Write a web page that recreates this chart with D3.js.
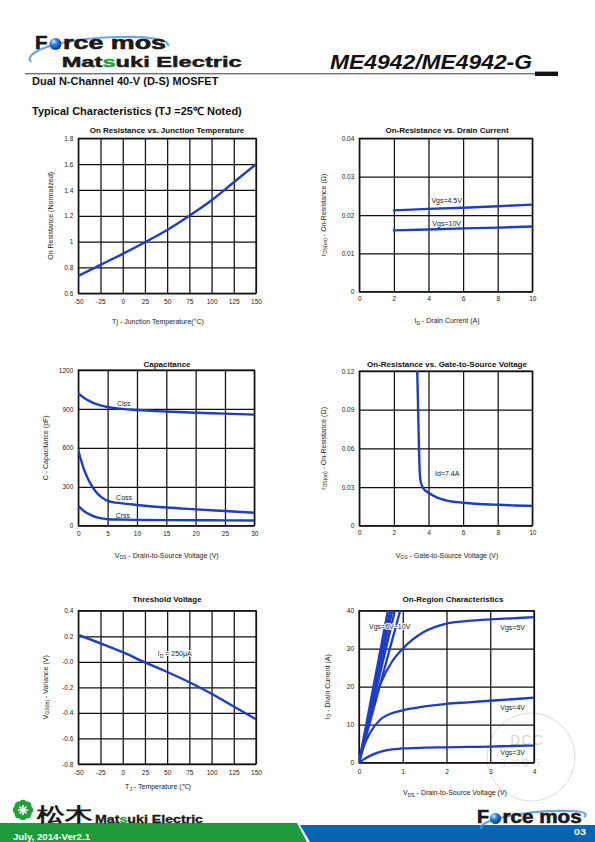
<!DOCTYPE html>
<html><head><meta charset="utf-8">
<script src="https://cdn.jsdelivr.net/npm/d3@7/dist/d3.min.js"></script>
<style>
body{margin:0;background:#fff}
svg{display:block}
text{font-family:"Liberation Sans",Arial,Helvetica,sans-serif}
</style>
</head><body>
<svg id="page" width="595" height="842"></svg>
<script>
// ---------------- DATA ----------------
// 1. On resistance vs junction temperature
const tempC = [-50, -25, 0, 25, 50, 75, 100, 125, 150];
const rdsNormalized = [0.735, 0.82, 0.905, 0.995, 1.09, 1.2, 1.32, 1.46, 1.6];
const tempTicks = [-50, -25, 0, 25, 50, 75, 100, 125, 150];
const tempTickLabels = ["-50", "-25", "0", "25", "50", "75", "100", "125", "150"];
const rdsNormTicks = [0.6, 0.8, 1, 1.2, 1.4, 1.6, 1.8];
const rdsNormTickLabels = ["0.6", "0.8", "1", "1.2", "1.4", "1.6", "1.8"];

// 2. On resistance vs drain current
const drainCurrent = [2, 4, 6, 8, 10];
const rdsVgs45 = [0.0212, 0.0216, 0.0219, 0.0223, 0.0227];
const rdsVgs10 = [0.0160, 0.0162, 0.0165, 0.0167, 0.0170];
const idTicks = [0, 2, 4, 6, 8, 10];
const idTickLabels = ["0", "2", "4", "6", "8", "10"];
const rdsIdTicks = [0, 0.01, 0.02, 0.03, 0.04];
const rdsIdTickLabels = ["0", "0.01", "0.02", "0.03", "0.04"];

// 3. Capacitance
const vdsCap = [0, 1, 2, 3, 4, 5, 7.5, 10, 15, 20, 25, 30];
const ciss = [1020, 985, 958, 938, 925, 915, 900, 892, 880, 870, 864, 856];
const coss = [580, 430, 330, 262, 218, 192, 172, 160, 140, 126, 113, 100];
const crss = [150, 112, 85, 66, 56, 50, 47, 45, 43, 42, 41, 40];
const vdsCapTicks = [0, 5, 10, 15, 20, 25, 30];
const vdsCapTickLabels = ["0", "5", "10", "15", "20", "25", "30"];
const capTicks = [0, 300, 600, 900, 1200];
const capTickLabels = ["0", "300", "600", "900", "1200"];

// 4. On resistance vs gate-to-source voltage
const vgsSweep = [3.35, 3.4, 3.45, 3.5, 3.55, 3.7, 4, 4.5, 5, 6, 7, 8, 9, 10];
const rdsVsVgs = [0.12, 0.09, 0.06, 0.04, 0.034, 0.029, 0.0255, 0.0218, 0.0197, 0.0178, 0.0168, 0.0162, 0.0157, 0.0153];
const vgsTicks = [0, 2, 4, 6, 8, 10];
const vgsTickLabels = ["0", "2", "4", "6", "8", "10"];
const rdsVgsTicks = [0, 0.03, 0.06, 0.09, 0.12];
const rdsVgsTickLabels = ["0", "0.03", "0.06", "0.09", "0.12"];

// 5. Threshold voltage
const vthVariance = [0.21, 0.145, 0.075, -0.005, -0.08, -0.16, -0.25, -0.35, -0.45];
const vthTicks = [-0.8, -0.6, -0.4, -0.2, 0, 0.2, 0.4];
const vthTickLabels = ["-0.8", "-0.6", "-0.4", "-0.2", "-0.0", "0.2", "0.4"];

// 6. On-region characteristics
const vdsOn = [0, 0.1, 0.25, 0.5, 0.75, 1, 1.5, 2, 2.5, 3, 3.5, 4];
const idVgs3 = [0, 0.8, 1.8, 2.9, 3.5, 3.75, 3.95, 4.05, 4.15, 4.25, 4.4, 4.5];
const idVgs4 = [0, 4, 7.8, 11.5, 13, 13.8, 14.8, 15.5, 15.9, 16.3, 16.7, 17.1];
const idVgs5 = [0, 5, 12, 21, 26.5, 30, 34.5, 36.6, 37.3, 37.7, 38, 38.3];
const steepVgsNames = ["10V", "9V", "8V", "7V", "6V"];
const steepVdsAt40A = [0.66, 0.71, 0.76, 0.82, 0.94];
const steepIdEnd = 40;
const onXTicks = [0, 1, 2, 3, 4];
const onXTickLabels = ["0", "1", "2", "3", "4"];
const onYTicks = [0, 10, 20, 30, 40];
const onYTickLabels = ["0", "10", "20", "30", "40"];

// ---------------- DRAWING ----------------
const svg = d3.select("#page");
const BLUE = "#1f3dc4";
const GRID = "#111";
const defs = svg.append("defs");

function rich(textSel, parts, base) {
  let prevSub = false;
  parts.forEach(([s, sub]) => {
    const t = textSel.append("tspan").text(s);
    if (sub && !prevSub) { t.attr("dy", 1.6).attr("font-size", base * 0.72); }
    else if (sub) { t.attr("font-size", base * 0.72); }
    else if (!sub && prevSub) { t.attr("dy", -1.6); }
    prevSub = sub;
  });
}

let clipId = 0;
function chart(c) {
  const w = c.r - c.l, h = c.b - c.t;
  const x = d3.scaleLinear().domain(c.xDomain).range([0, w]);
  const y = d3.scaleLinear().domain(c.yDomain).range([h, 0]);
  const g = svg.append("g").attr("transform", `translate(${c.l},${c.t})`);

  const cid = "clip" + (clipId++);
  defs.append("clipPath").attr("id", cid).append("rect").attr("width", w).attr("height", h);

  const xa = g.append("g").attr("transform", `translate(0,${h})`)
    .call(d3.axisBottom(x).tickValues(c.xTicks).tickFormat((d, i) => c.xTickLabels[i])
      .tickSizeInner(-h).tickSizeOuter(0).tickPadding(c.xPad));
  const ya = g.append("g")
    .call(d3.axisLeft(y).tickValues(c.yTicks).tickFormat((d, i) => c.yTickLabels[i])
      .tickSizeInner(-w).tickSizeOuter(0).tickPadding(5));
  [xa, ya].forEach(a => {
    a.select(".domain").remove();
    a.selectAll("line").attr("stroke", GRID).attr("stroke-width", 1.25);
    a.selectAll("text").attr("font-size", 6.5).attr("fill", "#222")
      .attr("font-family", "'Liberation Sans',Arial,sans-serif");
  });
  g.append("rect").attr("width", w).attr("height", h)
    .attr("fill", "none").attr("stroke", GRID).attr("stroke-width", 1.25);

  const line = d3.line().x(d => x(d[0])).y(d => y(d[1])).curve(c.curve || d3.curveMonotoneX);
  const pg = g.append("g").attr("clip-path", `url(#${cid})`);
  c.series.forEach(s => {
    pg.append("path").datum(s).attr("d", line).attr("fill", "none")
      .attr("stroke", BLUE).attr("stroke-width", c.sw || 2.4).attr("stroke-linecap", "round");
  });

  (c.notes || []).forEach(n => {
    const t = g.append("text").attr("x", x(n.x)).attr("y", y(n.y))
      .attr("font-size", 7).attr("fill", "#222").attr("text-anchor", n.anchor || "start");
    if (n.halo) t.attr("stroke", "#fff").attr("stroke-width", 2.2).attr("paint-order", "stroke").attr("stroke-linejoin", "round");
    rich(t, n.parts, 7);
  });

  svg.append("text").attr("x", c.titleX).attr("y", c.titleY).attr("text-anchor", "middle")
    .attr("font-size", 8).attr("font-weight", "bold").attr("fill", "#111").text(c.title);
  const xl = svg.append("text").attr("x", c.xLabelX).attr("y", c.xLabelY).attr("text-anchor", "middle")
    .attr("font-size", 7).attr("fill", "#222");
  rich(xl, c.xLabel, 7);
  const cy = (c.t + c.b) / 2;
  const yl = svg.append("text").attr("transform", `translate(${c.yLabelX},${cy}) rotate(-90)`)
    .attr("text-anchor", "middle").attr("font-size", 7).attr("fill", "#222");
  rich(yl, c.yLabel, 7);
}

const zip = (a, b) => a.map((v, i) => [v, b[i]]);

// ---------------- WATERMARK (faint, beneath the charts) ----------------
svg.append("circle").attr("cx", 531).attr("cy", 757).attr("r", 44).attr("fill", "none")
  .attr("stroke", "#dcdcdc").attr("stroke-width", 1);
svg.append("text").attr("x", 527).attr("y", 744.5).attr("text-anchor", "middle").attr("font-size", 14)
  .attr("font-family", "'Liberation Serif','DejaVu Serif',serif").attr("fill", "#d6d6d6").attr("letter-spacing", 1).text("DCC");
svg.append("text").attr("x", 500).attr("y", 765.5).attr("font-size", 9)
  .attr("font-family", "'Noto Sans CJK TC',sans-serif").attr("fill", "#dadada").attr("letter-spacing", 1.5).text("正式發行");

// Chart 1
chart({
  l: 78.3, t: 138.3, r: 256, b: 293.3,
  xDomain: [-50, 150], yDomain: [0.6, 1.8],
  xTicks: tempTicks, xTickLabels: tempTickLabels, yTicks: rdsNormTicks, yTickLabels: rdsNormTickLabels,
  xPad: 6,
  series: [zip(tempC, rdsNormalized)],
  title: "On Resistance vs. Junction Temperature", titleX: 167, titleY: 133,
  xLabel: [["Tj - Junction Temperature(°C)", false]], xLabelX: 158, xLabelY: 324,
  yLabel: [["On Resistance (Normalized)", false]], yLabelX: 52.5
});

// Chart 2
chart({
  l: 359.3, t: 138.3, r: 532.3, b: 291.7,
  xDomain: [0, 10], yDomain: [0, 0.04],
  xTicks: idTicks, xTickLabels: idTickLabels, yTicks: rdsIdTicks, yTickLabels: rdsIdTickLabels,
  xPad: 5,
  series: [zip(drainCurrent, rdsVgs45), zip(drainCurrent, rdsVgs10)],
  curve: d3.curveLinear,
  notes: [
    { x: 5.05, y: 0.0230, anchor: "middle", parts: [["Vgs=4.5V", false]] },
    { x: 5.05, y: 0.01725, anchor: "middle", parts: [["Vgs=10V", false]] }
  ],
  title: "On-Resistance vs. Drain Current", titleX: 447, titleY: 133,
  xLabel: [["I", false], ["D", true], [" - Drain Current (A)", false]], xLabelX: 447, xLabelY: 323,
  yLabel: [["r", false], ["DS(on)", true], [" - On-Resistance (Ω)", false]], yLabelX: 325.5
});

// Chart 3
chart({
  l: 78.3, t: 370, r: 254.3, b: 525.7,
  xDomain: [0, 30], yDomain: [0, 1200],
  xTicks: vdsCapTicks, xTickLabels: vdsCapTickLabels, yTicks: capTicks, yTickLabels: capTickLabels,
  xPad: 5.5,
  series: [zip(vdsCap, ciss), zip(vdsCap, coss), zip(vdsCap, crss)],
  notes: [
    { x: 7.74, y: 922, anchor: "middle", parts: [["Ciss", false]] },
    { x: 7.8, y: 198, anchor: "middle", parts: [["Coss", false]] },
    { x: 7.6, y: 63, anchor: "middle", parts: [["Crss", false]] }
  ],
  title: "Capacitance", titleX: 167, titleY: 367,
  xLabel: [["V", false], ["DS", true], [" - Drain-to-Source Voltage (V)", false]], xLabelX: 166.7, xLabelY: 557.5,
  yLabel: [["C - Capacitance (pF)", false]], yLabelX: 47.5
});

// Chart 4
chart({
  l: 359.3, t: 371, r: 532.3, b: 525.7,
  xDomain: [0, 10], yDomain: [0, 0.12],
  xTicks: vgsTicks, xTickLabels: vgsTickLabels, yTicks: rdsVgsTicks, yTickLabels: rdsVgsTickLabels,
  xPad: 5,
  series: [zip(vgsSweep, rdsVsVgs)],
  notes: [{ x: 4.38, y: 0.0386, anchor: "start", parts: [["Id=7.4A", false]] }],
  title: "On-Resistance vs. Gate-to-Source Voltage", titleX: 447, titleY: 367,
  xLabel: [["V", false], ["GS", true], [" - Gate-to-Source Voltage (V)", false]], xLabelX: 447, xLabelY: 557.5,
  yLabel: [["r", false], ["DS(on)", true], [" - On-Resistance (Ω)", false]], yLabelX: 325.5
});

// Chart 5
chart({
  l: 78.3, t: 610.7, r: 256, b: 764,
  xDomain: [-50, 150], yDomain: [-0.8, 0.4],
  xTicks: tempTicks, xTickLabels: tempTickLabels, yTicks: vthTicks, yTickLabels: vthTickLabels,
  xPad: 6.5,
  series: [zip(tempC, vthVariance)],
  notes: [{ x: 39.4, y: 0.045, anchor: "start", halo: true, parts: [["I", false], ["D", true], [" = 250μA", false]] }],
  title: "Threshold Voltage", titleX: 167, titleY: 602,
  xLabel: [["T", false], ["J", true], [" - Temperature (℃)", false]], xLabelX: 158, xLabelY: 789,
  yLabel: [["V", false], ["GS(th)", true], [" - Variance (V)", false]], yLabelX: 47.5
});

// Chart 6
const steepSeries = steepVdsAt40A.map(v => [[0, 0], [v, steepIdEnd]]);
chart({
  l: 359, t: 610.7, r: 534, b: 762.7,
  xDomain: [0, 4], yDomain: [0, 40],
  xTicks: onXTicks, xTickLabels: onXTickLabels, yTicks: onYTicks, yTickLabels: onYTickLabels,
  xPad: 6.5,
  series: [zip(vdsOn, idVgs3), zip(vdsOn, idVgs4), zip(vdsOn, idVgs5)].concat(steepSeries),
  sw: 2.3,
  notes: [
    { x: 0.23, y: 35.05, anchor: "start", halo: true, parts: [["Vgs=6V~10V", false]] },
    { x: 3.23, y: 34.9, anchor: "start", parts: [["Vgs=5V", false]] },
    { x: 3.23, y: 13.9, anchor: "start", parts: [["Vgs=4V", false]] },
    { x: 3.23, y: 2.0, anchor: "start", parts: [["Vgs=3V", false]] }
  ],
  title: "On-Region Characteristics", titleX: 453, titleY: 602,
  xLabel: [["V", false], ["DS", true], [" - Drain-to-Source Voltage (V)", false]], xLabelX: 455, xLabelY: 795,
  yLabel: [["I", false], ["D", true], [" - Drain Current (A)", false]], yLabelX: 329.5
});

// ---------------- HEADER ----------------
const sph = defs.append("radialGradient").attr("id", "sph").attr("cx", "35%").attr("cy", "30%").attr("r", "70%");
sph.append("stop").attr("offset", "0%").attr("stop-color", "#cfe6ff");
sph.append("stop").attr("offset", "45%").attr("stop-color", "#2c78d8");
sph.append("stop").attr("offset", "100%").attr("stop-color", "#0a3c8c");

const LOGO_FONT = "'DejaVu Sans','Liberation Sans',sans-serif";
function logoText(x, y, size, len, str, stroke) {
  return svg.append("text").attr("x", x).attr("y", y).attr("font-size", size).attr("font-weight", "bold")
    .attr("font-family", LOGO_FONT).attr("fill", "#1a1a1a").attr("stroke", "#1a1a1a").attr("stroke-width", stroke)
    .attr("textLength", len).attr("lengthAdjust", "spacingAndGlyphs").text(str);
}
function forceLogo(x0, base, size, fLen, restLen, sx, sy, sr, swoosh) {
  svg.append("path").attr("d", swoosh).attr("fill", "none").attr("stroke", "#4a9ae0")
    .attr("stroke-width", 2.2).attr("opacity", 0.85);
  logoText(x0, base, size, fLen, "F", 0.6);
  svg.append("circle").attr("cx", sx).attr("cy", sy).attr("r", sr).attr("fill", "url(#sph)");
  logoText(sx + sr + 1.5, base, size, restLen, "rce mos", 0.6);
}
forceLogo(35, 48.5, 18.5, 12.5, 103, 55.5, 44, 6, "M31,62 C22,52 60,38 120,37 C150,36 170,40 168,46");

const me = svg.append("text").attr("x", 61.7).attr("y", 67.3).attr("font-size", 14).attr("font-weight", "bold")
  .attr("font-family", LOGO_FONT).attr("fill", "#1a1a1a").attr("stroke", "#1a1a1a").attr("stroke-width", 0.45)
  .attr("textLength", 180).attr("lengthAdjust", "spacingAndGlyphs");
me.append("tspan").text("Mat");
me.append("tspan").attr("fill", "#22a03a").attr("stroke", "#22a03a").text("s");
me.append("tspan").text("uki Electric");

svg.append("text").attr("x", 330).attr("y", 69.3).attr("font-size", 20).attr("font-weight", "bold")
  .attr("font-style", "italic").attr("fill", "#111").attr("textLength", 202).attr("lengthAdjust", "spacingAndGlyphs")
  .text("ME4942/ME4942-G");
svg.append("line").attr("x1", 25).attr("x2", 536).attr("y1", 73.8).attr("y2", 73.8).attr("stroke", "#222").attr("stroke-width", 0.9);
svg.append("rect").attr("x", 535).attr("y", 71.6).attr("width", 23).attr("height", 4.4).attr("fill", "#111");

svg.append("text").attr("x", 32).attr("y", 84.5).attr("font-size", 11).attr("font-weight", "bold").attr("fill", "#111")
  .text("Dual N-Channel 40-V (D-S) MOSFET");
svg.append("text").attr("x", 32).attr("y", 115).attr("font-size", 11).attr("font-weight", "bold").attr("fill", "#111")
  .text("Typical Characteristics (TJ =25℃ Noted)");

// ---------------- FOOTER ----------------
svg.append("polygon").attr("points", "0,823 297,823 307,842 0,842").attr("fill", "#1d9a3c");
svg.append("polygon").attr("points", "300,825 595,825 595,842 310,842").attr("fill", "#0b63b3");
svg.append("text").attr("x", 13).attr("y", 839.5).attr("font-size", 9.5).attr("font-weight", "bold").attr("fill", "#fff")
  .attr("textLength", 77).attr("lengthAdjust", "spacingAndGlyphs").text("July, 2014-Ver2.1");
svg.append("text").attr("x", 574).attr("y", 834.5).attr("font-size", 9.5).attr("font-weight", "bold").attr("fill", "#fff")
  .attr("textLength", 12).attr("lengthAdjust", "spacingAndGlyphs").text("03");

const flower = svg.append("g").attr("transform", "translate(23,810)");
d3.range(8).forEach(i => {
  flower.append("circle").attr("cx", 6 * Math.cos(i * Math.PI / 4)).attr("cy", 6 * Math.sin(i * Math.PI / 4))
    .attr("r", 4.2).attr("fill", "#22a03a");
});
flower.append("circle").attr("r", 5).attr("fill", "#22a03a");
flower.append("path").attr("d", "M-5,0 H5 M0,-5 V5 M-3.5,-3.5 L3.5,3.5 M3.5,-3.5 L-3.5,3.5").attr("stroke", "#fff").attr("stroke-width", 1.6);
svg.append("text").attr("x", 37).attr("y", 821).attr("font-size", 19).attr("font-weight", "bold")
  .attr("font-family", "'Noto Sans CJK JP',sans-serif").attr("fill", "#1a1a1a")
  .attr("textLength", 55).attr("lengthAdjust", "spacingAndGlyphs").text("松木");
const fm = svg.append("text").attr("x", 95).attr("y", 822.5).attr("font-size", 10).attr("font-weight", "bold")
  .attr("font-family", LOGO_FONT).attr("fill", "#1a1a1a").attr("stroke", "#1a1a1a").attr("stroke-width", 0.3)
  .attr("textLength", 108).attr("lengthAdjust", "spacingAndGlyphs");
fm.append("tspan").text("Mat");
fm.append("tspan").attr("fill", "#22a03a").attr("stroke", "#22a03a").text("s");
fm.append("tspan").text("uki Electric");

forceLogo(477, 823.3, 18, 12, 79, 495.5, 818.5, 5.6, "M482,829 C474,822 520,810 570,811 C585,811 588,814 584,817");
</script>
</body></html>
